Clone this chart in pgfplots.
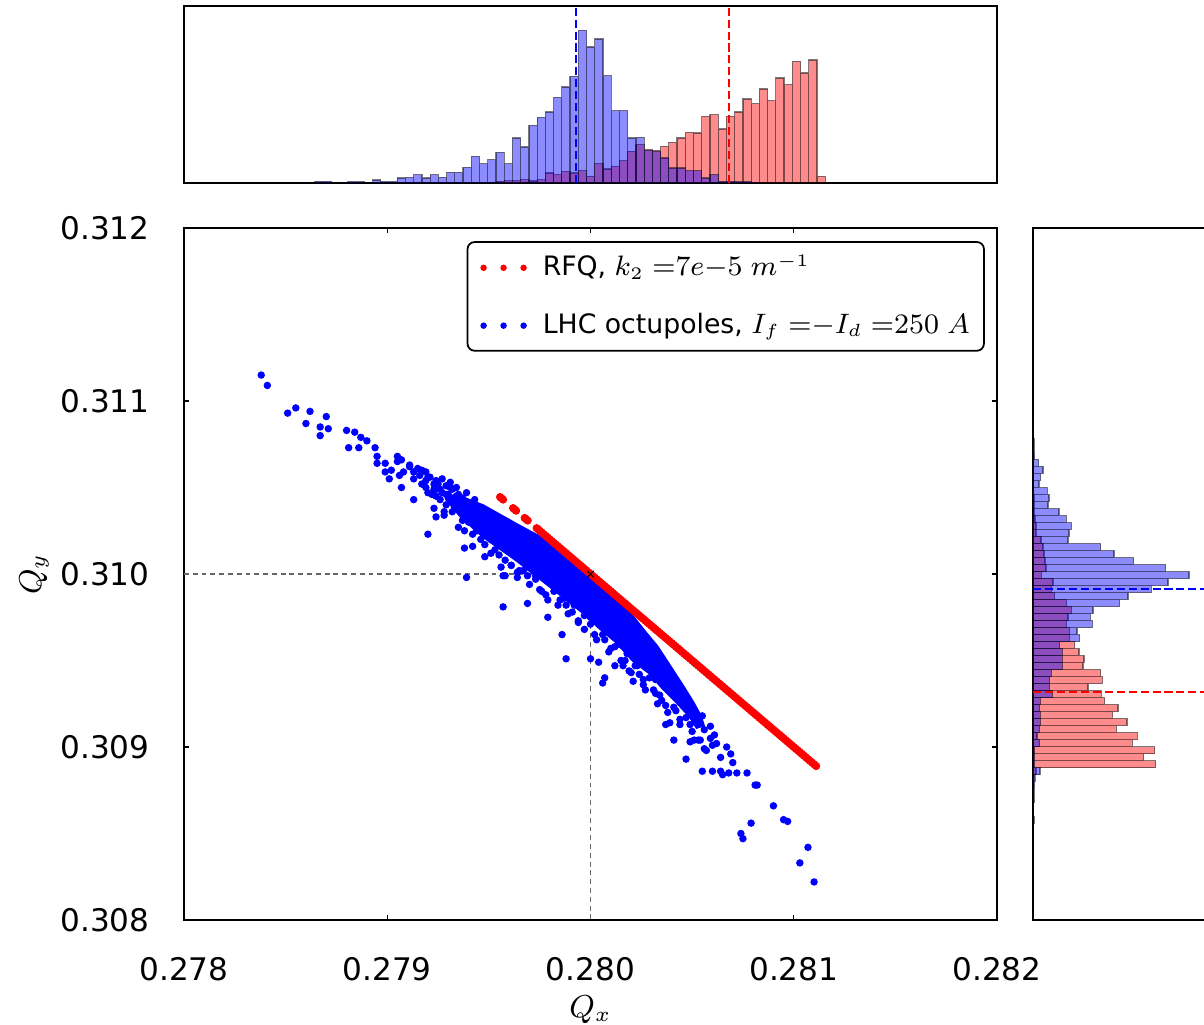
\documentclass[border=0pt]{standalone}
\usepackage[no-math]{fontspec}
\setmainfont{DejaVu Sans}
\usepackage{pgfplots}
\usepackage{pgfplotstable}
\pgfplotsset{compat=1.18}

\pgfplotstableread{
x blue red
0.2786440 1.7 0
0.2786845 1.7 0
0.2787250 0 0
0.2787655 0 0
0.2788060 1.3 0
0.2788465 1.3 0
0.2788870 0 0
0.2789275 3.0 0
0.2789680 1.3 0
0.2790085 1.3 0
0.2790490 5.0 0
0.2790895 5.7 0
0.2791300 8.3 0
0.2791705 5.0 0
0.2792110 8.3 0
0.2792515 5.7 0
0.2792920 10.7 0
0.2793325 10.7 0
0.2793730 15.7 0
0.2794135 26.7 0
0.2794540 19.3 0
0.2794945 23.3 0
0.2795350 30.7 1.7
0.2795755 19.3 2.3
0.2796160 45.0 2.3
0.2796565 36.0 3.3
0.2796970 57.7 2.0
0.2797375 65.7 3.3
0.2797780 71.0 10.0
0.2798185 85.7 8.3
0.2798590 96.0 11.7
0.2798995 106.7 10.0
0.2799400 152.7 12.3
0.2799805 136.0 6.7
0.2800210 144.0 19.3
0.2800615 107.3 14.0
0.2801020 72.3 16.7
0.2801425 72.3 22.3
0.2801830 45.0 31.7
0.2802235 45.7 38.3
0.2802640 32.7 33.3
0.2803045 31.7 32.3
0.2803450 25.0 36.7
0.2803855 15.0 40.7
0.2804260 15.0 45.0
0.2804665 12.3 50.7
0.2805070 12.3 50.0
0.2805475 5.0 66.7
0.2805880 8.3 68.3
0.2806285 1.7 54.0
0.2806690 1.7 66.7
0.2807095 1.3 71.0
0.2807500 1.3 84.0
0.2807905 0.7 79.3
0.2808310 0 94.0
0.2808715 0 82.3
0.2809120 0 105.0
0.2809525 0 98.3
0.2809930 0 121.7
0.2810335 0 110.0
0.2810740 0 123.0
0.2811145 0 6.7
0.2811550 0 0
}\tophist

\pgfplotstableread{
y blue red
0.3085560 1.0 0
0.3085965 0 0
0.3086370 0.7 0
0.3086775 1.0 0
0.3087180 1.0 0
0.3087585 1.5 0
0.3087990 2.0 0
0.3088395 7.0 3.0
0.3088800 1.7 122.7
0.3089205 1.7 110.7
0.3089610 1.7 121.7
0.3090015 6.7 99.3
0.3090420 4.0 104.3
0.3090825 6.7 83.3
0.3091230 7.3 94.0
0.3091635 7.3 79.3
0.3092040 6.7 85.0
0.3092445 7.3 71.7
0.3092850 19.3 68.3
0.3093255 16.7 55.0
0.3093660 16.7 69.3
0.3094065 18.3 67.7
0.3094470 29.3 50.0
0.3094875 29.3 51.0
0.3095280 29.3 46.0
0.3095685 26.7 41.7
0.3096090 46.7 36.7
0.3096495 44.0 36.7
0.3096900 59.3 33.3
0.3097305 57.3 35.0
0.3097710 60.0 38.3
0.3098115 86.7 33.3
0.3098520 95.0 21.7
0.3098925 118.3 18.3
0.3099330 135.0 20.0
0.3099735 156.0 8.3
0.3100140 132.7 13.0
0.3100545 100.7 12.0
0.3100950 81.0 11.0
0.3101355 67.7 10.0
0.3101760 35.0 8.0
0.3102165 36.0 3.0
0.3102570 38.3 3.0
0.3102975 33.3 2.0
0.3103380 26.0 1.0
0.3103785 15.0 1.0
0.3104190 16.0 1.0
0.3104595 14.3 0
0.3105000 6.0 0
0.3105405 7.7 0
0.3105810 10.0 0
0.3106215 5.7 0
0.3106620 1.5 0
0.3107025 1.0 0
0.3107430 1.0 0
0.3107835 0.7 0
0.3108240 0.7 0
0.3108645 0.5 0
0.3109050 0 0
}\righthist

\pgfplotstableread{
x y
0.279299 0.310428
0.279333 0.310457
0.279471 0.310393
0.279638 0.310283
0.279801 0.310179
0.279899 0.310104
0.279963 0.310046
0.280012 0.310000
0.280096 0.309908
0.280180 0.309792
0.280258 0.309676
0.280327 0.309578
0.280391 0.309463
0.280455 0.309347
0.280504 0.309254
0.280539 0.309179
0.280553 0.309127
0.280524 0.309116
0.280490 0.309179
0.280426 0.309260
0.280357 0.309341
0.280293 0.309428
0.280209 0.309503
0.280130 0.309607
0.280047 0.309688
0.279963 0.309780
0.279801 0.309931
0.279638 0.310081
0.279471 0.310220
0.279358 0.310341
0.279299 0.310428
}\bluecore

\pgfplotstableread{
x y
0.27838 0.31115
0.27841 0.31109
0.27851 0.31093
0.27855 0.31096
0.27862 0.31094
0.27860 0.31087
0.27870 0.31091
0.27867 0.31085
0.27871 0.31084
0.27867 0.31080
0.27880 0.31083
0.27884 0.31082
0.27887 0.31079
0.27890 0.31077
0.27881 0.31073
0.27886 0.31073
0.27894 0.31073
0.27895 0.31068
0.27895 0.31064
0.27899 0.31059
0.27901 0.31055
0.27905 0.31068
0.27907 0.31066
0.27906 0.31057
0.27907 0.31050
0.27911 0.31063
0.27913 0.31059
0.27913 0.31043
0.27917 0.31060
0.27920 0.31056
0.27919 0.31050
0.27923 0.31052
0.27924 0.31049
0.27923 0.31038
0.27924 0.31033
0.27928 0.31036
0.27931 0.31050
0.27930 0.31046
0.27935 0.31027
0.27920 0.31023
0.27938 0.31015
0.27942 0.31016
0.27939 0.30998
0.27948 0.31010
0.27951 0.31012
0.27957 0.30999
0.27957 0.30981
0.27964 0.31001
0.27969 0.30983
0.27979 0.30975
0.27986 0.30965
0.27916 0.31057
0.27919 0.31054
0.27921 0.31056
0.27923 0.31049
0.27925 0.31052
0.27927 0.31047
0.27929 0.31051
0.27930 0.31044
0.27932 0.31049
0.27933 0.31043
0.27935 0.31046
0.27926 0.31043
0.27929 0.31040
0.27932 0.31036
0.27936 0.31038
0.27937 0.31031
0.27928 0.31034
0.27924 0.31045
0.27920 0.31047
0.27940 0.31041
0.27941 0.31034
0.27943 0.31028
0.27942 0.31023
0.27938 0.31025
0.27946 0.31020
0.27945 0.31030
0.27948 0.31017
0.27951 0.31020
0.27953 0.31014
0.27955 0.31011
0.27958 0.31008
0.27961 0.31005
0.27965 0.31002
0.27969 0.30999
0.27973 0.30997
0.27975 0.30991
0.27978 0.30988
0.27983 0.30991
0.27985 0.30985
0.27988 0.30982
0.27991 0.30978
0.27994 0.30973
0.27997 0.30976
0.28000 0.30971
0.28002 0.30965
0.28007 0.30962
0.28010 0.30957
0.28015 0.30959
0.28017 0.30950
0.28022 0.30947
0.28024 0.30942
0.28027 0.30933
0.28032 0.30939
0.28034 0.30930
0.28037 0.30924
0.28042 0.30921
0.28044 0.30916
0.28047 0.30924
0.28049 0.30913
0.28051 0.30917
0.28056 0.30910
0.28059 0.30905
0.28054 0.30904
0.27988 0.30951
0.28000 0.30951
0.28004 0.30949
0.28006 0.30937
0.28007 0.30940
0.28012 0.30947
0.28016 0.30947
0.28019 0.30944
0.28021 0.30938
0.28026 0.30939
0.28031 0.30933
0.28033 0.30925
0.28037 0.30913
0.28041 0.30904
0.28047 0.30893
0.28051 0.30904
0.28055 0.30918
0.28057 0.30898
0.28059 0.30912
0.28061 0.30907
0.28062 0.30902
0.28067 0.30900
0.28069 0.30896
0.28070 0.30891
0.28055 0.30886
0.28060 0.30886
0.28064 0.30886
0.28065 0.30884
0.28068 0.30885
0.28072 0.30885
0.28077 0.30885
0.28081 0.30878
0.28082 0.30878
0.28090 0.30866
0.28095 0.30858
0.28097 0.30857
0.28079 0.30856
0.28074 0.30850
0.28075 0.30847
0.28107 0.30842
0.28103 0.30833
0.28110 0.30822
0.27899 0.31064
0.27902 0.31060
0.27905 0.31065
0.27908 0.31059
0.27911 0.31062
0.27913 0.31055
0.27915 0.31061
0.27917 0.31052
0.27919 0.31059
0.27922 0.31046
0.27924 0.31054
0.27926 0.31049
0.27927 0.31055
0.27929 0.31046
0.27931 0.31053
0.27933 0.31039
0.27934 0.31050
0.27937 0.31044
0.27939 0.31047
0.27941 0.31039
0.27943 0.31043
0.27945 0.31036
0.27947 0.31031
0.27949 0.31027
0.27951 0.31024
0.27944 0.31025
0.27940 0.31030
0.27953 0.31027
0.27956 0.31004
0.27958 0.30999
0.27961 0.31005
0.27964 0.30998
0.27967 0.31002
0.27970 0.30994
0.27973 0.30999
0.27976 0.30990
0.27979 0.30985
0.27982 0.30990
0.27984 0.30982
0.27987 0.30986
0.27989 0.30977
0.27992 0.30982
0.27994 0.30972
0.27997 0.30968
0.28000 0.30975
0.28003 0.30962
0.28006 0.30965
0.28009 0.30955
0.28012 0.30958
0.28015 0.30950
0.28018 0.30954
0.28020 0.30943
0.28023 0.30947
0.28026 0.30936
0.28029 0.30940
0.28032 0.30931
0.28035 0.30927
0.28038 0.30920
0.28041 0.30923
0.28044 0.30913
0.28047 0.30917
0.28050 0.30909
0.28053 0.30904
0.28056 0.30899
0.28060 0.30901
0.28064 0.30894
0.28049 0.30903
0.28039 0.30914
}\bluedots

\pgfplotstableread{
x y
0.279555 0.310445
0.279562 0.310438
0.279570 0.310430
0.279619 0.310381
0.279626 0.310374
0.279634 0.310366
0.279676 0.310324
0.279683 0.310317
0.279691 0.310309
0.279735 0.310265
0.279742 0.310258
0.27975 0.31025
0.27976 0.31024
0.27977 0.31023
0.27978 0.31022
0.27979 0.31021
0.27980 0.31020
0.27981 0.31019
0.27982 0.31018
0.27983 0.31017
0.27984 0.31016
0.27985 0.31015
0.27986 0.31014
0.27987 0.31013
0.27988 0.31012
0.27989 0.31011
0.27990 0.31010
0.27991 0.31009
0.27992 0.31008
0.27993 0.31007
0.27994 0.31006
0.27995 0.31005
0.27996 0.31004
0.27997 0.31003
0.27998 0.31002
0.27999 0.31001
0.28000 0.31000
0.28001 0.30999
0.28002 0.30998
0.28003 0.30997
0.28004 0.30996
0.28005 0.30995
0.28006 0.30994
0.28007 0.30993
0.28008 0.30992
0.28009 0.30991
0.28010 0.30990
0.28011 0.30989
0.28012 0.30988
0.28013 0.30987
0.28014 0.30986
0.28015 0.30985
0.28016 0.30984
0.28017 0.30983
0.28018 0.30982
0.28019 0.30981
0.28020 0.30980
0.28021 0.30979
0.28022 0.30978
0.28023 0.30977
0.28024 0.30976
0.28025 0.30975
0.28026 0.30974
0.28027 0.30973
0.28028 0.30972
0.28029 0.30971
0.28030 0.30970
0.28031 0.30969
0.28032 0.30968
0.28033 0.30967
0.28034 0.30966
0.28035 0.30965
0.28036 0.30964
0.28037 0.30963
0.28038 0.30962
0.28039 0.30961
0.28040 0.30960
0.28041 0.30959
0.28042 0.30958
0.28043 0.30957
0.28044 0.30956
0.28045 0.30955
0.28046 0.30954
0.28047 0.30953
0.28048 0.30952
0.28049 0.30951
0.28050 0.30950
0.28051 0.30949
0.28052 0.30948
0.28053 0.30947
0.28054 0.30946
0.28055 0.30945
0.28056 0.30944
0.28057 0.30943
0.28058 0.30942
0.28059 0.30941
0.28060 0.30940
0.28061 0.30939
0.28062 0.30938
0.28063 0.30937
0.28064 0.30936
0.28065 0.30935
0.28066 0.30934
0.28067 0.30933
0.28068 0.30932
0.28069 0.30931
0.28070 0.30930
0.28071 0.30929
0.28072 0.30928
0.28073 0.30927
0.28074 0.30926
0.28075 0.30925
0.28076 0.30924
0.28077 0.30923
0.28078 0.30922
0.28079 0.30921
0.28080 0.30920
0.28081 0.30919
0.28082 0.30918
0.28083 0.30917
0.28084 0.30916
0.28085 0.30915
0.28086 0.30914
0.28087 0.30913
0.28088 0.30912
0.28089 0.30911
0.28090 0.30910
0.28091 0.30909
0.28092 0.30908
0.28093 0.30907
0.28094 0.30906
0.28095 0.30905
0.28096 0.30904
0.28097 0.30903
0.28098 0.30902
0.28099 0.30901
0.28100 0.30900
0.28101 0.30899
0.28102 0.30898
0.28103 0.30897
0.28104 0.30896
0.28105 0.30895
0.28106 0.30894
0.28107 0.30893
0.28108 0.30892
0.28109 0.30891
0.28110 0.30890
0.28111 0.30889
}\reddots

\begin{document}
\begin{tikzpicture}
\pgfplotsset{
  myframe/.style={scale only axis, axis line style={line width=0.6pt},
    tick style={line width=0.35pt, black}, major tick length=0.05cm},
  histR/.style={fill=red, fill opacity=0.45, draw=black, draw opacity=0.5, line width=0.35pt},
  histB/.style={fill=blue, fill opacity=0.45, draw=black, draw opacity=0.5, line width=0.35pt},
}

% top histogram
\begin{axis}[myframe, at={(1.84cm,8.41cm)}, anchor=south west,
  width=8.13cm, height=1.77cm,
  xmin=0.278, xmax=0.282, ymin=0, ymax=177, xtick=\empty, ytick=\empty]
\addplot[ybar interval, histR] table[x=x, y=red] {\tophist};
\addplot[ybar interval, histB] table[x=x, y=blue] {\tophist};
\addplot[blue, line width=0.55pt, dash pattern=on 2.3pt off 1.1pt] coordinates {(0.279929,0) (0.279929,177)};
\addplot[red, line width=0.55pt, dash pattern=on 2.3pt off 1.1pt] coordinates {(0.280681,0) (0.280681,177)};
\end{axis}

% right histogram
\begin{axis}[myframe, at={(10.33cm,1.04cm)}, anchor=south west,
  width=1.77cm, height=6.92cm,
  xmin=0, xmax=177, ymin=0.308, ymax=0.312, xtick=\empty, ytick=\empty]
\addplot[xbar interval, histR] table[x=red, y=y] {\righthist};
\addplot[xbar interval, histB] table[x=blue, y=y] {\righthist};
\addplot[blue, line width=0.55pt, dash pattern=on 2.3pt off 1.1pt] coordinates {(0,0.309913) (177,0.309913)};
\addplot[red, line width=0.55pt, dash pattern=on 2.3pt off 1.1pt] coordinates {(0,0.309320) (177,0.309320)};
\end{axis}

% main scatter
\begin{axis}[myframe, at={(1.84cm,1.04cm)}, anchor=south west,
  width=8.13cm, height=6.92cm,
  xmin=0.278, xmax=0.282, ymin=0.308, ymax=0.312,
  xtick={0.278,0.279,0.280,0.281,0.282},
  ytick={0.308,0.309,0.310,0.311,0.312},
  scaled ticks=false,
  /pgf/number format/assume math mode=true,
  tick label style={font=\fontsize{8.85}{10}\selectfont},
  xticklabel style={/pgf/number format/fixed, /pgf/number format/fixed zerofill, /pgf/number format/precision=3, yshift=-0.245cm},
  yticklabel style={/pgf/number format/fixed, /pgf/number format/fixed zerofill, /pgf/number format/precision=3, xshift=-0.22cm},
  xlabel={$Q_x$}, ylabel={$Q_y$},
  label style={font=\fontsize{9}{11}\selectfont},
  xlabel style={at={(axis description cs:0.5,-0.13)}, anchor=center},
  ylabel style={at={(axis description cs:-0.1845,0.5)}, anchor=center},
  legend cell align=left,
  legend style={at={(0.985,0.981)}, anchor=north east, draw=black, line width=0.5pt,
    rounded corners=2pt, fill=white, font=\fontsize{7.6}{9}\selectfont,
    inner xsep=2pt, inner ysep=1.5pt, row sep=5pt,
    /tikz/every odd column/.append style={column sep=0.09cm}},
]
\addlegendimage{legend image code/.code={\path[draw=none, fill=none] (-0.09cm,-0.02cm) rectangle (0cm,0.02cm); \fill[red] (0cm,0cm) circle (0.65pt) (0.2cm,0cm) circle (0.65pt) (0.4cm,0cm) circle (0.65pt);}}
\addlegendentry{RFQ, $k_2\;{=}7e{-}5\ m^{-1}$}
\addlegendimage{legend image code/.code={\path[draw=none, fill=none] (-0.09cm,-0.02cm) rectangle (0cm,0.02cm); \fill[blue] (0cm,0cm) circle (0.65pt) (0.2cm,0cm) circle (0.65pt) (0.4cm,0cm) circle (0.65pt);}}
\addlegendentry{LHC octupoles, $I_f\;{=}{-}I_d\;{=}250\ A$}

\addplot[gray!80!black, line width=0.35pt, dash pattern=on 1.4pt off 1.1pt, forget plot] coordinates {(0.278,0.310) (0.280,0.310) (0.280,0.308)};
\addplot[fill=blue, draw=blue, line width=1pt, forget plot] table[x=x, y=y] {\bluecore};
\addplot[only marks, mark=*, mark size=0.85pt, blue, mark options={draw=none, fill=blue}, forget plot] table[x=x, y=y] {\bluedots};
\addplot[only marks, mark=*, mark size=0.95pt, red, mark options={draw=none, fill=red}, forget plot] table[x=x, y=y] {\reddots};
\addplot[only marks, mark=x, mark size=1.3pt, black, line width=0.3pt, forget plot] coordinates {(0.280,0.310)};
\end{axis}

\pgfresetboundingbox
\useasboundingbox (0,0) rectangle (12.04cm,10.24cm);
\end{tikzpicture}
\end{document}
